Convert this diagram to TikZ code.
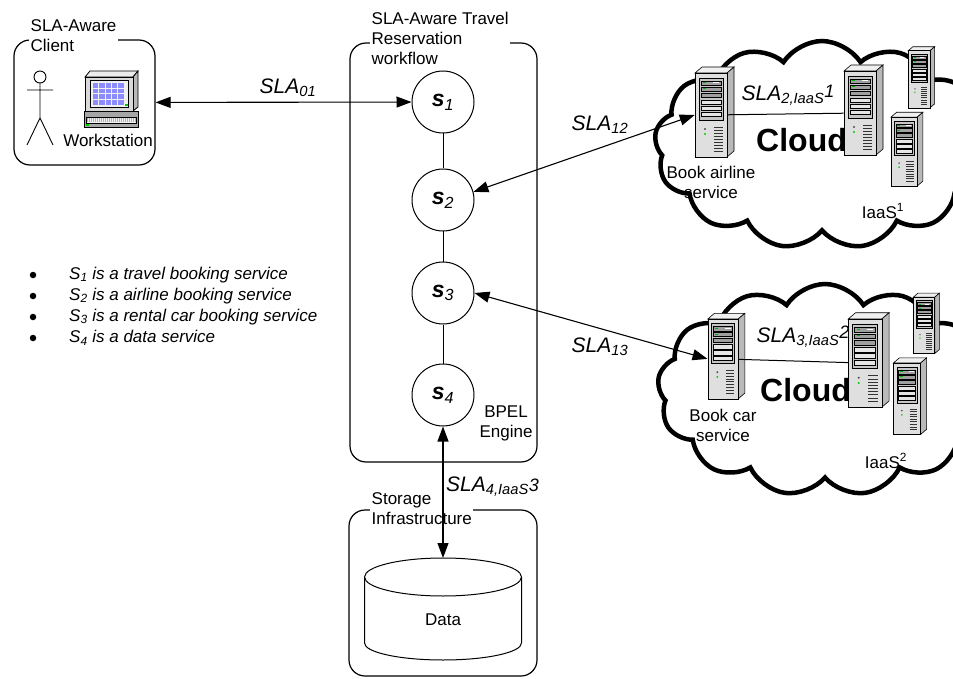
\documentclass[tikz,border=0pt]{standalone}
\usepackage{fontspec}
\setmainfont{Liberation Sans}
\usetikzlibrary{arrows.meta, shapes.symbols}

\tikzset{
  txt/.style={font=\fontsize{17}{20}\selectfont, inner sep=0pt},
  sla/.style={font=\fontsize{21}{24}\selectfont\itshape, inner sep=0pt},
  svc/.style={circle, draw, line width=1pt, fill=white, minimum size=62pt, inner sep=0pt,
              font=\fontsize{23}{26}\selectfont\itshape},
  frame/.style={draw, rounded corners=16pt, line width=1.2pt},
  title/.style={txt, fill=white, align=left, anchor=north west, inner sep=1.5pt},
  link/.style={line width=1.1pt, {Triangle[length=15pt,width=11pt]}-{Triangle[length=15pt,width=11pt]}},
  puffy/.style={cloud, cloud puffs=13, cloud puff arc=115, cloud ignores aspect,
                draw, line width=4.5pt, fill=white},
  bigword/.style={font=\fontsize{32}{32}\selectfont\bfseries, inner sep=0pt, anchor=west},
  rack/.style={rectangle, draw, fill=gray!25, minimum width=32pt, minimum height=84pt, inner sep=0pt},
  % tower server, front face named -box
  server/.pic={
    \fill[gray!12, draw=black, line width=.6pt] (-16,-40) -- (-9,-46) -- (23,-46) -- (16,-40) -- cycle;
    \fill[gray!55, draw=black, line width=.6pt] (16,-40) -- (23,-46) -- (23,38) -- (16,44) -- cycle;
    \node[rack, line width=.6pt] (-box) at (0,2) {};
    \draw[fill=gray!45, line width=.6pt] (-12,-35) rectangle (12,7);
    \foreach \y/\c in {-32/gray!75, -26/gray!75, -20/gray!75, -13/gray!20, -7/gray!20, -1/gray!20}
      \draw[fill=\c, line width=.4pt] (-10,\y) rectangle (10,\y+4.6);
    \fill[green!70!black] (-8,-30.5) rectangle (-5,-29.5);
    \fill[green!70!black] (-8,-24.5) rectangle (-5,-23.5);
    \fill[white] (2,-30.5) rectangle (8,-29.5);
    \foreach \y in {14,17,...,38}
      \draw[gray!40!black, line width=.5pt] (3,\y) -- (12,\y);
    \fill[gray!60!black] (-6,16) circle (1.1);
    \fill[green!80!black] (-6,21) circle (1.1);
  }
}

\begin{document}
\begin{tikzpicture}[x=1pt, y=-1pt]
\useasboundingbox (0,0) rectangle (953,679);

% clouds
\node[puffy, minimum width=335pt, minimum height=208pt] (cloud1) at (822,145) {};
\node[puffy, minimum width=335pt, minimum height=212pt] (cloud2) at (825,390) {};
\node[bigword] (word1) at (756,140) {Cloud};
\node[bigword] (word2) at (760,390) {Cloud};

% client
\node[frame, minimum width=141pt, minimum height=125pt] (client) at (84.5,102.5) {};
\node[title] (clienttitle) at (29,18) {SLA-Aware\\Client};
\draw[line width=.9pt] (40,77) circle (6);
\draw[line width=.9pt] (40,83) -- (40,118) (27,90) -- (53,90)
  (27,145) -- (40,118) -- (53,145);
% workstation
\fill[gray!15, draw=black, line width=.8pt] (85,77) -- (90,71) -- (138,71) -- (133,77) -- cycle;
\fill[gray!55, draw=black, line width=.8pt] (133,77) -- (138,71) -- (138,107) -- (133,111) -- cycle;
\draw[fill=gray!30, line width=.8pt] (85,77) rectangle (133,111);
\draw[fill=gray!12, line width=.5pt] (90,80) rectangle (128,107);
\foreach \i in {0,...,4}
  \foreach \j in {0,...,3}
    \fill[blue!45] (93+\i*6.3,83+\j*5.6) rectangle +(5.4,4.8);
\fill[green!80!black] (125,104) rectangle +(3,2);
\draw[fill=gray!70, line width=.8pt] (84,111) rectangle (138,127);
\draw[fill=gray!12, line width=.4pt] (86,117) rectangle (136,123);
\foreach \k in {0,...,24}
  \draw[gray!60, line width=.4pt] (87+\k*2,118) -- +(0,4);
\fill[green!80!black] (86,124) rectangle +(3,2);
\node[txt] (ws) at (108,140) {Workstation};

% workflow
\node[frame, minimum width=187pt, minimum height=419pt] (flow) at (443.5,252.5) {};
\node[title] (flowtitle) at (370,10) {SLA-Aware Travel\\Reservation\\workflow};
\node[svc] (s1) at (443,102) {\textbf{s}\textsubscript{1}};
\node[svc] (s2) at (443,200) {\textbf{s}\textsubscript{2}};
\node[svc] (s3) at (443,293) {\textbf{s}\textsubscript{3}};
\node[svc] (s4) at (443,395) {\textbf{s}\textsubscript{4}};
\draw[line width=1pt] (s1) -- (s2) -- (s3) -- (s4);
\node[txt, align=center] (bpel) at (506,423) {BPEL\\Engine};

% storage
\node[frame, minimum width=188pt, minimum height=166pt] (store) at (443,593) {};
\node[title] (storetitle) at (370,491) {Storage\\Infrastructure};
\fill[white] (364.5,577) rectangle (521.5,643);
\draw[line width=1pt] (364.5,577) -- (364.5,643)
  arc[start angle=180, end angle=360, x radius=78.5pt, y radius=17pt] -- (521.5,577);
\draw[line width=1pt, fill=white] (443,577) ellipse [x radius=78.5pt, y radius=19pt];
\coordinate (datatop) at (443,558);
\node[txt] (data) at (443,620) {Data};

% servers
\pic (air) at (711,113) {server};
\pic (iaas1a) at (860,111) {server};
\pic[scale=.68, transform shape] (iaas1b) at (919,78) {server};
\pic[scale=.82, transform shape] (iaas1c) at (904,150) {server};
\pic[scale=.95, transform shape] (car) at (723,357) {server};
\pic[scale=1.05, transform shape] (iaas2a) at (865,361) {server};
\pic[scale=.67, transform shape] (iaas2b) at (924,324) {server};
\pic[scale=.85, transform shape] (iaas2c) at (907,397) {server};
\draw[line width=1pt] (air-box) -- (iaas1a-box);
\draw[line width=1pt] (car-box) -- (iaas2a-box);

\node[txt, align=center] (airsvc) at (711,182) {Book airline\\service};
\node[txt, align=center] (carsvc) at (723,425) {Book car\\service};
\node[txt] (iaas1) at (883,211) {IaaS\textsuperscript{1}};
\node[txt] (iaas2) at (886,461) {IaaS\textsuperscript{2}};

% SLAs
\draw[link] (client) -- (s1);
\draw[link] (s2.15) -- (air-box.west);
\draw[link] (s3.east) -- (car-box.west);
\draw[link] (s4) -- (datatop);
\node[sla] (sla01) at (288,88) {SLA\textsubscript{01}};
\node[sla] (sla12) at (600,125) {SLA\textsubscript{12}};
\node[sla] (sla13) at (600,347) {SLA\textsubscript{13}};
\node[sla] (sla2) at (788,95) {SLA\textsubscript{2,IaaS}{\fontsize{18}{20}\selectfont\raisebox{3pt}{1}}};
\node[sla] (sla3) at (803,337) {SLA\textsubscript{3,IaaS}{\fontsize{18}{20}\selectfont\raisebox{4pt}{2}}};
\node[sla, anchor=west] (sla4) at (446,487) {SLA\textsubscript{4,IaaS}{\fontsize{18}{20}\selectfont 3}};

% legend
\foreach \i/\y/\t in {1/275/a travel booking service, 2/296/a airline booking service,
                      3/317/a rental car booking service, 4/338/a data service} {
  \node[circle, fill, inner sep=0pt, minimum size=6.5pt] (dot\i) at (33,\y) {};
  \node[txt, anchor=west, font=\fontsize{17}{20}\selectfont\itshape] (item\i) at (69,\y)
    {S\textsubscript{\i} is \t};
}
\end{tikzpicture}
\end{document}
